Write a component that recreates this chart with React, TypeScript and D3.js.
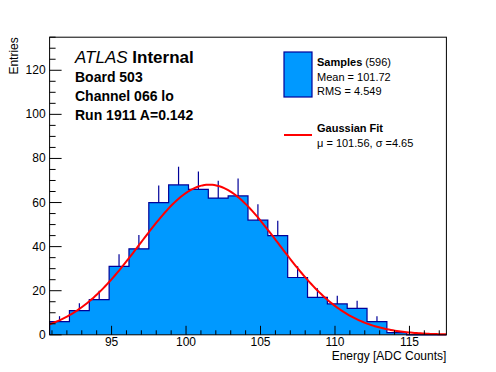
import React from "react";
import * as d3 from "d3";

// histogram: 20 equal bins between the frame edges
const binLo = 90.84;
const binHi = 117.48;
const counts = [6, 11, 16, 31, 39, 60, 68, 66, 62, 63, 52, 45, 26, 17, 14, 12, 6, 1, 0, 0];
const fitMu = 101.56;
const fitSigma = 4.65;
const nEntries = 596;
const xTicks = [95, 100, 105, 110, 115];
const yTicks = [0, 20, 40, 60, 80, 100, 120];
const infoLines = ["Board 503", "Channel 066 lo", "Run 1911 A=0.142"];

const W = 496;
const H = 372;
const m = { left: 49.6, right: 49.6, top: 37.2, bottom: 37.2 };
const font = "'Liberation Sans', Arial, Helvetica, sans-serif";
const fillCol = "#0099ff";
const lineCol = "#000099";

export default function App() {
  const x = d3.scaleLinear().domain([binLo, binHi]).range([m.left, W - m.right]);
  const y = d3.scaleLinear().domain([0, 135]).range([H - m.bottom, m.top]);
  const bw = (binHi - binLo) / counts.length;
  const edges = d3.range(counts.length + 1).map((i) => binLo + i * bw);

  // step outline, also used as the fill shape
  let outline = `M${x(edges[0])},${y(0)}`;
  counts.forEach((c, i) => {
    outline += `L${x(edges[i])},${y(c)}L${x(edges[i + 1])},${y(c)}`;
  });
  outline += `L${x(edges[counts.length])},${y(0)}`;

  const amp = (nEntries * bw) / (Math.sqrt(2 * Math.PI) * fitSigma);
  const fx = d3.range(0, 201).map((i) => binLo + (i * (binHi - binLo)) / 200);
  const curve = d3
    .line<number>()
    .x((d) => x(d))
    .y((d) => y(amp * Math.exp(-0.5 * ((d - fitMu) / fitSigma) ** 2)))(fx);

  const xMinor = d3.range(91, 118);
  const yMinor = d3.range(0, 136, 5);
  const y0 = y(0);

  return (
    <svg width={W} height={H} style={{ display: "block", position: "absolute", left: 0, top: 0 }} fontFamily={font}>
      <rect width={W} height={H} fill="white" />
      <path d={outline + "Z"} fill={fillCol} stroke="none" />
      {/* error bars, upper half */}
      {counts.map((c, i) =>
        c > 0 ? (
          <line key={"e" + i} x1={x(edges[i] + bw / 2)} x2={x(edges[i] + bw / 2)} y1={y(c)} y2={y(c + Math.sqrt(c))} stroke={lineCol} strokeWidth={1.2} />
        ) : null
      )}
      <path d={outline} fill="none" stroke={lineCol} strokeWidth={1.2} />
      <path d={curve || ""} fill="none" stroke="#ff0000" strokeWidth={2} />

      {/* frame */}
      <rect x={m.left} y={m.top} width={W - m.left - m.right} height={H - m.top - m.bottom} fill="none" stroke="black" strokeWidth={1} />

      {/* x ticks */}
      {xMinor.map((v) => (
        <line key={"xm" + v} x1={x(v)} x2={x(v)} y1={y0} y2={y0 - (v % 5 === 0 ? 9 : 4.5)} stroke="black" />
      ))}
      {xTicks.map((v) => (
        <text key={"xl" + v} x={x(v)} y={y0 + 11} fontSize={12} textAnchor="middle">
          {v}
        </text>
      ))}
      <text x={W - m.right} y={y0 + 25} fontSize={12} textAnchor="end">
        Energy [ADC Counts]
      </text>

      {/* y ticks */}
      {yMinor.map((v) => (
        <line key={"ym" + v} x1={m.left} x2={m.left + (v % 20 === 0 ? 12 : 6)} y1={y(v)} y2={y(v)} stroke="black" />
      ))}
      {yTicks.map((v) => (
        <text key={"yl" + v} x={m.left - 4} y={y(v) + 4} fontSize={12} textAnchor="end">
          {v}
        </text>
      ))}
      <text transform={`translate(18,${m.top}) rotate(-90)`} fontSize={12} textAnchor="end">
        Entries
      </text>

      {/* labels */}
      <text x={75} y={63} fontSize={17}>
        <tspan fontStyle="italic">ATLAS</tspan>
        <tspan fontWeight="bold"> Internal</tspan>
      </text>
      {infoLines.map((t, i) => (
        <text key={t} x={75} y={82 + i * 19} fontSize={14} fontWeight="bold">
          {t}
        </text>
      ))}

      {/* legend */}
      <rect x={284} y={52} width={28} height={45} fill={fillCol} stroke={lineCol} strokeWidth={1.2} />
      <text x={317} y={66} fontSize={11}>
        <tspan fontWeight="bold">Samples</tspan> ({nEntries})
      </text>
      <text x={317} y={81} fontSize={11}>
        Mean = 101.72
      </text>
      <text x={317} y={95} fontSize={11}>
        RMS = 4.549
      </text>
      <line x1={284} x2={312} y1={135} y2={135} stroke="#ff0000" strokeWidth={2} />
      <text x={317} y={132} fontSize={11} fontWeight="bold">
        Gaussian Fit
      </text>
      <text x={317} y={147} fontSize={11}>
        μ = {fitMu}, σ ={fitSigma}
      </text>
    </svg>
  );
}
